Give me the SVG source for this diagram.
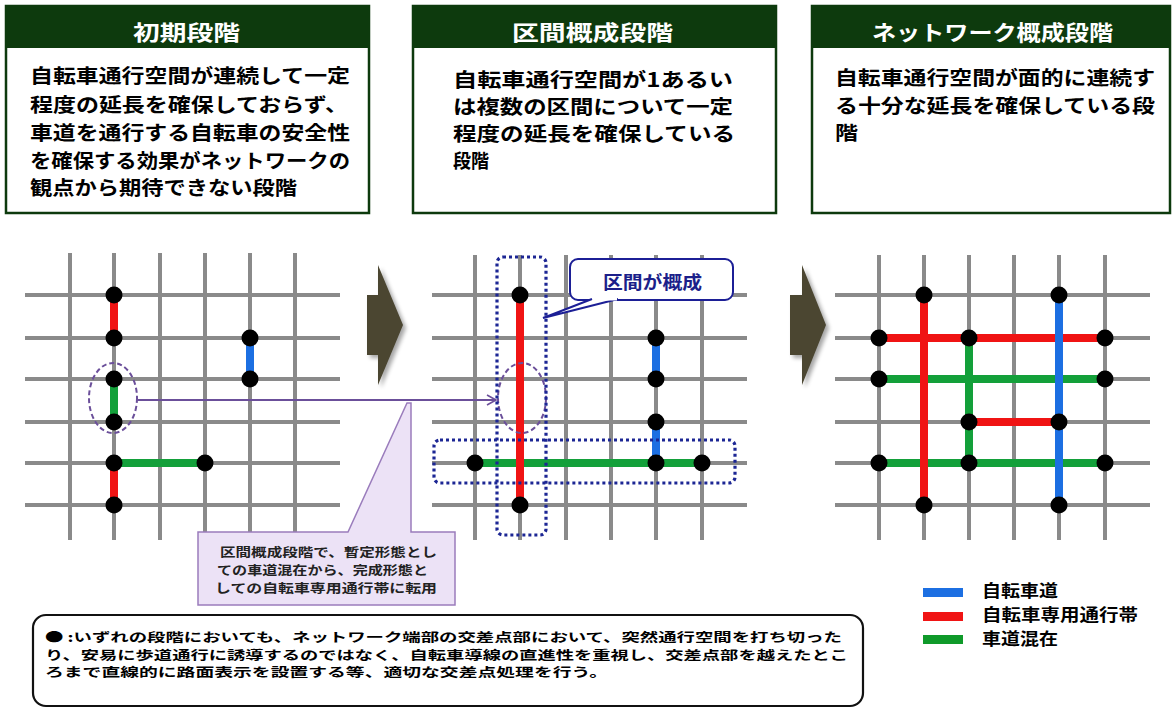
<svg xmlns="http://www.w3.org/2000/svg" width="1172" height="708" viewBox="0 0 1172 708">
<defs>
<style>
.jp{font-family:"Noto Sans CJK JP","Noto Sans",sans-serif;font-weight:bold}
.hdr{fill:#fff;font-size:21px;text-anchor:start}
.body{fill:#000;font-size:19.5px}
.box{fill:#fff;stroke:#0d3a0d;stroke-width:2.5}
.band{fill:#0d3a0d}
.grid line{stroke:#8a8a8a;stroke-width:4}
.r{stroke:#f01414;stroke-width:8}
.g{stroke:#13a03a;stroke-width:8}
.b{stroke:#1c6fe2;stroke-width:8}
.dot{fill:#000}
.ell{fill:none;stroke:#6b4f9a;stroke-width:2;stroke-dasharray:5 3}
.dotted{fill:none;stroke:#1c2694;stroke-width:3.2;stroke-dasharray:3 3}
.bigarrow{fill:#4b4631}
</style>
<filter id="sh" x="-30%" y="-30%" width="160%" height="160%">
<feGaussianBlur stdDeviation="2"/>
</filter>
<marker id="chev" markerWidth="12" markerHeight="12" refX="10" refY="6" orient="auto" markerUnits="userSpaceOnUse">
<path d="M1,1 L10,6 L1,11" fill="none" stroke="#6b4f9a" stroke-width="1.6"/>
</marker>
</defs>
<rect width="1172" height="708" fill="#fff"/>

<!-- Header boxes -->
<g id="stage1">
<rect class="box" x="6" y="6" width="363" height="207"/>
<rect class="band" x="6" y="6" width="363" height="42"/>
<text class="jp hdr" x="133" y="40" textLength="107" lengthAdjust="spacingAndGlyphs">初期段階</text>
<g class="jp body">
<text x="30" y="83" textLength="320" lengthAdjust="spacingAndGlyphs">自転車通行空間が連続して一定</text>
<text x="30" y="112" textLength="318" lengthAdjust="spacingAndGlyphs">程度の延長を確保しておらず、</text>
<text x="30" y="140" textLength="320" lengthAdjust="spacingAndGlyphs">車道を通行する自転車の安全性</text>
<text x="30" y="168" textLength="320" lengthAdjust="spacingAndGlyphs">を確保する効果がネットワークの</text>
<text x="30" y="195" textLength="267" lengthAdjust="spacingAndGlyphs">観点から期待できない段階</text>
</g>
</g>

<g id="stage2">
<rect class="box" x="413" y="6" width="363" height="207"/>
<rect class="band" x="413" y="6" width="363" height="42"/>
<text class="jp hdr" x="512" y="40" textLength="161" lengthAdjust="spacingAndGlyphs">区間概成段階</text>
<g class="jp body">
<text x="453" y="87" textLength="280" lengthAdjust="spacingAndGlyphs">自転車通行空間が1あるい</text>
<text x="453" y="114" textLength="280" lengthAdjust="spacingAndGlyphs">は複数の区間について一定</text>
<text x="453" y="141" textLength="282" lengthAdjust="spacingAndGlyphs">程度の延長を確保している</text>
<text x="453" y="168" textLength="36" lengthAdjust="spacingAndGlyphs">段階</text>
</g>
</g>

<g id="stage3">
<rect class="box" x="812" y="6" width="358" height="207"/>
<rect class="band" x="812" y="6" width="358" height="42"/>
<text class="jp hdr" x="872" y="40" textLength="241" lengthAdjust="spacingAndGlyphs">ネットワーク概成段階</text>
<g class="jp body">
<text x="835" y="85" textLength="320" lengthAdjust="spacingAndGlyphs">自転車通行空間が面的に連続す</text>
<text x="835" y="113" textLength="320" lengthAdjust="spacingAndGlyphs">る十分な延長を確保している段</text>
<text x="835" y="140" textLength="23" lengthAdjust="spacingAndGlyphs">階</text>
</g>
</g>

<!-- Panel 1 -->
<g id="panel1">
<g class="grid">
<line x1="70" y1="253" x2="70" y2="540"/><line x1="114" y1="253" x2="114" y2="540"/><line x1="160" y1="253" x2="160" y2="540"/><line x1="205" y1="253" x2="205" y2="540"/><line x1="250" y1="253" x2="250" y2="540"/><line x1="295" y1="253" x2="295" y2="540"/>
<line x1="25" y1="295" x2="340" y2="295"/><line x1="25" y1="338" x2="340" y2="338"/><line x1="25" y1="379" x2="340" y2="379"/><line x1="25" y1="422" x2="340" y2="422"/><line x1="25" y1="463" x2="340" y2="463"/><line x1="25" y1="505" x2="340" y2="505"/>
</g>
<line class="g" x1="114" y1="463" x2="205" y2="463"/>
<line class="g" x1="114" y1="379" x2="114" y2="422"/>
<line class="r" x1="114" y1="295" x2="114" y2="338"/>
<line class="r" x1="114" y1="463" x2="114" y2="505"/>
<line class="b" x1="250" y1="338" x2="250" y2="379"/>
<g class="dot">
<circle cx="114" cy="295" r="8.5"/><circle cx="114" cy="338" r="8.5"/><circle cx="250" cy="338" r="8.5"/><circle cx="250" cy="379" r="8.5"/><circle cx="114" cy="379" r="8.5"/><circle cx="114" cy="422" r="8.5"/><circle cx="114" cy="463" r="8.5"/><circle cx="205" cy="463" r="8.5"/><circle cx="114" cy="505" r="8.5"/>
</g>
<ellipse class="ell" cx="113" cy="398" rx="24" ry="35"/>
</g>

<!-- Panel 2 -->
<g id="panel2">
<g class="grid">
<line x1="475" y1="255" x2="475" y2="540"/><line x1="520" y1="255" x2="520" y2="540"/><line x1="566" y1="255" x2="566" y2="540"/><line x1="611" y1="255" x2="611" y2="540"/><line x1="656" y1="255" x2="656" y2="540"/><line x1="702" y1="255" x2="702" y2="540"/>
<line x1="432" y1="295" x2="747" y2="295"/><line x1="432" y1="338" x2="747" y2="338"/><line x1="432" y1="379" x2="747" y2="379"/><line x1="432" y1="422" x2="747" y2="422"/><line x1="432" y1="463" x2="747" y2="463"/><line x1="432" y1="505" x2="747" y2="505"/>
</g>
<line class="g" x1="475" y1="463" x2="702" y2="463"/>
<line class="b" x1="656" y1="338" x2="656" y2="379"/>
<line class="b" x1="656" y1="422" x2="656" y2="463"/>
<line class="r" x1="520" y1="295" x2="520" y2="505"/>
<g class="dot">
<circle cx="520" cy="295" r="8.5"/><circle cx="520" cy="505" r="8.5"/><circle cx="656" cy="338" r="8.5"/><circle cx="656" cy="379" r="8.5"/><circle cx="656" cy="422" r="8.5"/><circle cx="656" cy="463" r="8.5"/><circle cx="475" cy="463" r="8.5"/><circle cx="702" cy="463" r="8.5"/>
</g>
<ellipse class="ell" cx="522" cy="398" rx="24" ry="35"/>
<rect class="dotted" x="497" y="257" width="49" height="278" rx="6"/>
<rect class="dotted" x="434" y="440" width="301" height="43" rx="6"/>
</g>

<!-- Panel 3 -->
<g id="panel3">
<g class="grid">
<line x1="879" y1="255" x2="879" y2="540"/><line x1="924" y1="255" x2="924" y2="540"/><line x1="969" y1="255" x2="969" y2="540"/><line x1="1014" y1="255" x2="1014" y2="540"/><line x1="1059" y1="255" x2="1059" y2="540"/><line x1="1105" y1="255" x2="1105" y2="540"/>
<line x1="835" y1="295" x2="1150" y2="295"/><line x1="835" y1="338" x2="1150" y2="338"/><line x1="835" y1="379" x2="1150" y2="379"/><line x1="835" y1="422" x2="1150" y2="422"/><line x1="835" y1="463" x2="1150" y2="463"/><line x1="835" y1="505" x2="1150" y2="505"/>
</g>
<line class="g" x1="879" y1="379" x2="1105" y2="379"/>
<line class="g" x1="879" y1="463" x2="1105" y2="463"/>
<line class="g" x1="969" y1="338" x2="969" y2="463"/>
<line class="r" x1="879" y1="338" x2="1105" y2="338"/>
<line class="r" x1="969" y1="422" x2="1059" y2="422"/>
<line class="r" x1="924" y1="295" x2="924" y2="505"/>
<line class="b" x1="1059" y1="295" x2="1059" y2="505"/>
<g class="dot">
<circle cx="924" cy="295" r="8.5"/><circle cx="1059" cy="295" r="8.5"/><circle cx="879" cy="338" r="8.5"/><circle cx="969" cy="338" r="8.5"/><circle cx="1105" cy="338" r="8.5"/><circle cx="879" cy="379" r="8.5"/><circle cx="1105" cy="379" r="8.5"/><circle cx="969" cy="422" r="8.5"/><circle cx="1059" cy="422" r="8.5"/><circle cx="879" cy="463" r="8.5"/><circle cx="969" cy="463" r="8.5"/><circle cx="1105" cy="463" r="8.5"/><circle cx="924" cy="505" r="8.5"/><circle cx="1059" cy="505" r="8.5"/>
</g>
</g>

<!-- Connectors -->
<g id="connectors">
<path d="M370,298 L381,298 L381,268 L406,328 L381,388 L381,358 L370,358 Z" fill="#000" opacity="0.35" filter="url(#sh)"/>
<path class="bigarrow" d="M367,295 L378,295 L378,265 L403,325 L378,385 L378,355 L367,355 Z"/>
<path d="M793,298 L805,298 L805,268 L829,328 L805,388 L805,358 L793,358 Z" fill="#000" opacity="0.35" filter="url(#sh)"/>
<path class="bigarrow" d="M790,295 L802,295 L802,265 L826,325 L802,385 L802,355 L790,355 Z"/>
<line x1="137" y1="400" x2="496" y2="400" stroke="#6b4f9a" stroke-width="1.8" marker-end="url(#chev)"/>
</g>

<!-- Lavender callout -->
<g id="callout-transfer">
<path d="M198,532 L348,532 L407,403 L411,403 L411,532 L455,532 L455,605 L198,605 Z" fill="#ece2f6" stroke="#9a7cbc" stroke-width="1.5"/>
<g class="jp" fill="#222" font-size="12.5">
<text x="220" y="557" textLength="217" lengthAdjust="spacingAndGlyphs">区間概成段階で、暫定形態とし</text>
<text x="217" y="575" textLength="211" lengthAdjust="spacingAndGlyphs">ての車道混在から、完成形態と</text>
<text x="215" y="593" textLength="222" lengthAdjust="spacingAndGlyphs">しての自転車専用通行帯に転用</text>
</g>
</g>

<!-- Navy callout -->
<g id="callout-section">
<rect x="570" y="259" width="163" height="41" rx="8" fill="#fff" stroke="#1c1f96" stroke-width="2"/>
<path d="M592,299 L543,318 L618,299" fill="#fff" stroke="#1c1f96" stroke-width="2" stroke-linejoin="miter"/>
<line x1="593" y1="299" x2="617" y2="299" stroke="#fff" stroke-width="3"/>
<text class="jp" x="603" y="289" font-size="18" fill="#1c1f8a" textLength="99" lengthAdjust="spacingAndGlyphs">区間が概成</text>
</g>

<!-- Legend -->
<g id="legend">
<rect x="923" y="588" width="40" height="9" fill="#1c6fe2"/>
<rect x="923" y="612" width="40" height="9" fill="#f01414"/>
<rect x="923" y="635" width="40" height="9" fill="#0f9a2a"/>
<g class="jp" font-size="16.5" fill="#000">
<text x="982" y="597" textLength="76" lengthAdjust="spacingAndGlyphs">自転車道</text>
<text x="982" y="621" textLength="156" lengthAdjust="spacingAndGlyphs">自転車専用通行帯</text>
<text x="982" y="645" textLength="76" lengthAdjust="spacingAndGlyphs">車道混在</text>
</g>
</g>

<!-- Bottom note -->
<g id="note">
<rect x="33" y="615" width="830" height="91" rx="13" fill="#fff" stroke="#111" stroke-width="2.2"/>
<g class="jp" font-size="12.5" fill="#000">
<text x="45" y="642" textLength="797" lengthAdjust="spacingAndGlyphs">● :いずれの段階においても、ネットワーク端部の交差点部において、突然通行空間を打ち切った</text>
<text x="45" y="660" textLength="803" lengthAdjust="spacingAndGlyphs">り、安易に歩道通行に誘導するのではなく、自転車導線の直進性を重視し、交差点部を越えたとこ</text>
<text x="45" y="677" textLength="563" lengthAdjust="spacingAndGlyphs">ろまで直線的に路面表示を設置する等、適切な交差点処理を行う。</text>
</g>
</g>
</svg>
